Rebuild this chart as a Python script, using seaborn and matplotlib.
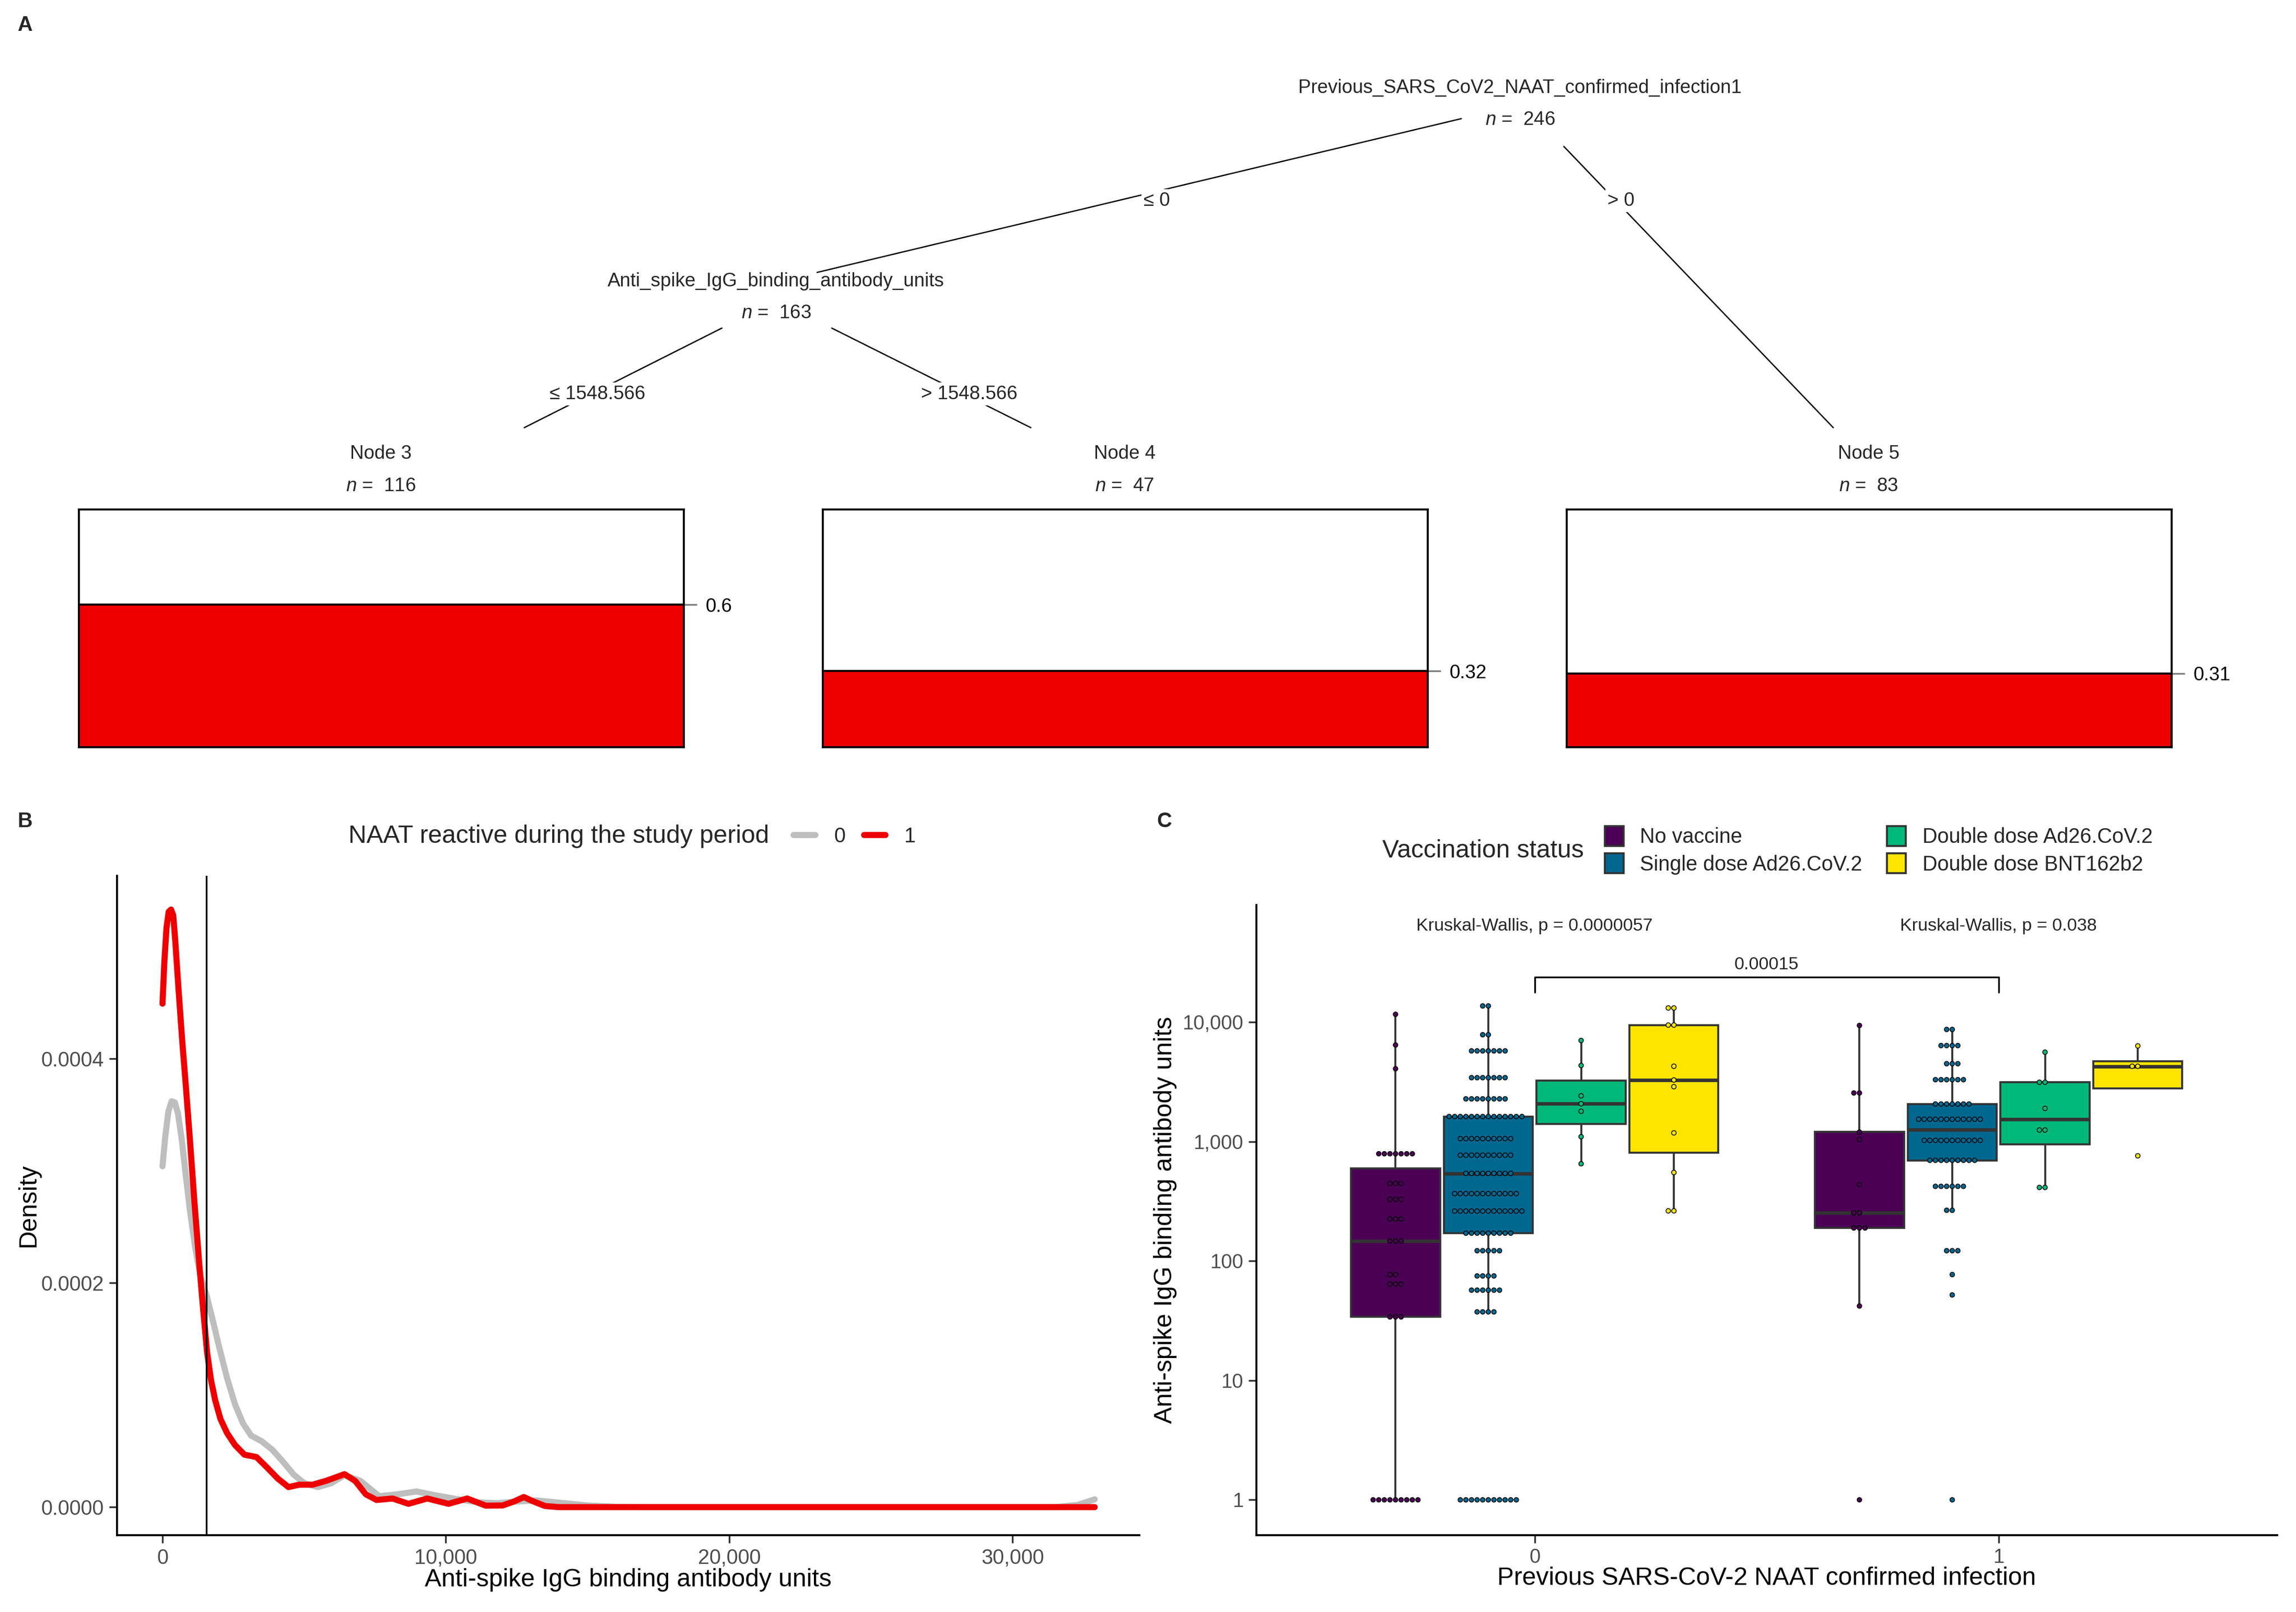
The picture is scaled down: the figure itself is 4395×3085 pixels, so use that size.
import numpy as np
import pandas as pd
import matplotlib
matplotlib.use("Agg")
import matplotlib.pyplot as plt
from matplotlib.patches import Patch
from matplotlib.lines import Line2D
from matplotlib.ticker import FixedLocator, NullLocator
import seaborn as sns

sns.set_theme(style="white")
plt.rcParams['font.family'] = ['Liberation Sans', 'DejaVu Sans']
plt.rcParams['mathtext.fontset'] = 'custom'
plt.rcParams['mathtext.it'] = 'Liberation Sans:italic'
plt.rcParams['mathtext.rm'] = 'Liberation Sans'

# ---- panel A: tree, share NAAT reactive in each terminal node
node_names = ['Node 3', 'Node 4', 'Node 5']
node_n = [116, 47, 83]
node_prop = [0.6, 0.32, 0.31]

# ---- panel B: density curves
neg_x = [0, 94, 207, 320, 433, 546, 678, 819, 960, 1149, 1337, 1554, 1761, 1996, 2279, 2561,
         2844, 3126, 3503, 3879, 4256, 4633, 5009, 5480, 5951, 6422, 6987, 7646, 8305, 8964,
         9623, 10377, 11130, 11800, 12500, 13200, 14000, 15000, 16000, 17000, 20000, 25000,
         30000, 31500, 32300, 32900]
neg_y = [3.04e-4, 3.30e-4, 3.53e-4, 3.62e-4, 3.61e-4, 3.51e-4, 3.28e-4, 2.96e-4, 2.66e-4,
         2.32e-4, 2.06e-4, 1.89e-4, 1.68e-4, 1.43e-4, 1.15e-4, 9.15e-5, 7.45e-5, 6.38e-5,
         5.87e-5, 5.11e-5, 4.04e-5, 2.89e-5, 2.13e-5, 1.79e-5, 2.13e-5, 2.85e-5, 2.34e-5,
         9.8e-6, 1.15e-5, 1.4e-5, 1.06e-5, 7.2e-6, 4.3e-6, 3.5e-6, 5e-6, 6e-6, 4e-6, 1.5e-6,
         3e-7, 0, 0, 0, 0, 0, 2e-6, 7e-6]
pos_x = [0, 66, 141, 217, 301, 377, 452, 565, 697, 819, 960, 1121, 1290, 1431, 1573, 1714,
         1855, 2043, 2279, 2561, 2891, 3315, 3691, 4068, 4444, 4821, 5292, 5763, 6422, 6798,
         7175, 7552, 8117, 8682, 9341, 10094, 10753, 11412, 12000, 12400, 12750, 13100, 13500,
         14000, 16000, 20000, 25000, 30000, 32900]
pos_y = [4.49e-4, 4.87e-4, 5.17e-4, 5.31e-4, 5.33e-4, 5.28e-4, 5.04e-4, 4.62e-4, 4.15e-4,
         3.77e-4, 3.30e-4, 2.74e-4, 2.19e-4, 1.77e-4, 1.38e-4, 1.13e-4, 9.57e-5, 7.87e-5,
         6.6e-5, 5.53e-5, 4.68e-5, 4.47e-5, 3.53e-5, 2.55e-5, 1.79e-5, 2.0e-5, 2.0e-5, 2.34e-5,
         2.94e-5, 2.34e-5, 1.15e-5, 6.4e-6, 7.7e-6, 3.0e-6, 7.7e-6, 3.0e-6, 7.7e-6, 1.3e-6,
         1.5e-6, 5e-6, 9e-6, 5e-6, 1e-6, 0, 0, 0, 0, 0, 0]
cutoff = 1548.566

# ---- panel C: antibody units per dot stack (value, count)
vacc_levels = ['No vaccine', 'Single dose Ad26.CoV.2', 'Double dose Ad26.CoV.2', 'Double dose BNT162b2']
vacc_colors = ['#4B0055', '#00678F', '#00B87A', '#FDE500']

none0_vals = [1, 34, 64, 77, 147, 225, 328, 447, 791, 4075, 6440, 11640]
none0_cnt = [9, 3, 3, 2, 3, 3, 3, 3, 7, 1, 1, 1]
single0_vals = [1, 37.5, 57, 75, 122, 171, 262, 367, 542, 770, 1059, 1622, 2280, 3430, 5750, 7850, 13680]
single0_cnt = [11, 4, 6, 4, 5, 9, 13, 12, 9, 10, 10, 14, 8, 7, 7, 2, 2]
ad0_vals = [652, 1099, 1795, 2075, 2415, 4340, 7030]
ad0_cnt = [1, 1, 1, 1, 1, 1, 1]
bnt0_vals = [263, 551, 1183, 2884, 3280, 4275, 9460, 13150]
bnt0_cnt = [2, 1, 1, 1, 1, 1, 2, 2]

none1_vals = [1, 42, 189, 253, 437, 1040, 1202, 2555, 9390]
none1_cnt = [1, 1, 3, 2, 1, 1, 1, 2, 1]
single1_vals = [1, 52, 77, 122, 266, 422, 697, 1024, 1539, 2065, 3300, 4490, 6370, 8690]
single1_cnt = [1, 1, 1, 3, 2, 6, 9, 11, 12, 7, 6, 3, 4, 2]
ad1_vals = [413, 1250, 1897, 3140, 5610]
ad1_cnt = [2, 2, 1, 2, 1]
bnt1_vals = [760, 4275, 6330]
bnt1_cnt = [1, 2, 1]

kw_labels = ['Kruskal-Wallis, p = 0.0000057', 'Kruskal-Wallis, p = 0.038']
pair_label = '0.00015'

RED = '#EE0000'
GREY = '#BEBEBE'
TXT = '#4D4D4D'

W, H = 1568.0, 1100.6  # layout grid (reference px / 2.803)


def box(x0, y0, x1, y1):
    return [x0 / W, 1 - y1 / H, (x1 - x0) / W, (y1 - y0) / H]


def expand(vals, cnt, inf, vac):
    return pd.DataFrame({'infection': inf, 'vaccine': vac, 'units': np.repeat(vals, cnt)})


def style_axis(ax, size):
    for s in ['top', 'right']:
        ax.spines[s].set_visible(False)
    for s in ['left', 'bottom']:
        ax.spines[s].set_color('black')
        ax.spines[s].set_linewidth(0.9)
    ax.tick_params(axis='both', direction='out', length=3.5, width=0.8, color='#333333',
                   labelcolor=TXT, labelsize=size, left=True, bottom=True, pad=2.5)


fig = plt.figure(figsize=(4395 / 300, 3085 / 300), dpi=300)
fig.patch.set_facecolor('white')

# ================= panel A
for i, (name, n, p) in enumerate(zip(node_names, node_n, node_prop)):
    x0 = 54 + i * 508
    bax = fig.add_axes(box(x0, 348, x0 + 413, 510))
    sns.barplot(x=[0], y=[p], color=RED, width=1.0, edgecolor='black', linewidth=0.9,
                saturation=1, ax=bax)
    bax.set_xlim(-0.5, 0.5)
    bax.set_ylim(0, 1)
    bax.set(xlabel='', ylabel='')
    bax.set_xticks([])
    bax.yaxis.tick_right()
    bax.set_yticks([p])
    bax.set_yticklabels(['{:g}'.format(p)])
    bax.tick_params(axis='y', right=True, left=False, length=6, width=0.8, color='#7F7F7F',
                    labelsize=8.8, labelcolor='black', pad=4)
    for s in bax.spines.values():
        s.set_visible(True)
        s.set_color('black')
        s.set_linewidth(0.9)

ov = fig.add_axes([0, 0, 1, 1], zorder=5)
ov.set_xlim(0, W)
ov.set_ylim(H, 0)
ov.axis('off')

# tree edges
for (xa, ya, xb, yb) in [(998, 81, 558, 186), (1068, 100, 1252, 292),
                         (493, 224, 358, 292), (568, 224, 704, 292)]:
    ov.plot([xa, xb], [ya, yb], color='black', lw=0.6)

tfs = 8.8
ov.text(1038, 60, 'Previous_SARS_CoV2_NAAT_confirmed_infection1', ha='center', va='center', fontsize=tfs)
ov.text(1038, 82, r'$n$ =  246', ha='center', va='center', fontsize=tfs)
ov.text(530, 192, 'Anti_spike_IgG_binding_antibody_units', ha='center', va='center', fontsize=tfs)
ov.text(530, 214, r'$n$ =  163', ha='center', va='center', fontsize=tfs)
for lab, x, y in [('\u2264 0', 790, 137), ('> 0', 1107, 137),
                  ('\u2264 1548.566', 408, 269), ('> 1548.566', 662, 269)]:
    ov.text(x, y, lab, ha='center', va='center', fontsize=tfs,
            bbox=dict(facecolor='white', edgecolor='none', pad=1.0))
for i, (name, n) in enumerate(zip(node_names, node_n)):
    cx = 260 + i * 508
    ov.text(cx, 310, name, ha='center', va='center', fontsize=tfs)
    ov.text(cx, 332, r'$n$ =  {}'.format(n), ha='center', va='center', fontsize=tfs)

# panel letters
for lab, x, y in [('A', 17, 17), ('B', 17, 561), ('C', 795, 561)]:
    ov.text(x, y, lab, ha='center', va='center', fontsize=9.5, fontweight='bold')

# ================= panel B
dens = pd.concat([
    pd.DataFrame({'units': neg_x, 'density': neg_y, 'NAAT': '0'}),
    pd.DataFrame({'units': pos_x, 'density': pos_y, 'NAAT': '1'}),
])
axB = fig.add_axes(box(80, 598, 778, 1048))
sns.lineplot(data=dens, x='units', y='density', hue='NAAT', hue_order=['0', '1'],
             palette={'0': GREY, '1': RED}, estimator=None, sort=False, lw=2.8,
             legend=False, ax=axB)
axB.axvline(cutoff, color='black', lw=0.8)
axB.set_xlim(-1602, 34470)
axB.set_ylim(-0.0000248, 0.000563)
axB.xaxis.set_major_locator(FixedLocator([0, 10000, 20000, 30000]))
axB.set_xticklabels(['0', '10,000', '20,000', '30,000'])
axB.yaxis.set_major_locator(FixedLocator([0, 0.0002, 0.0004]))
axB.set_yticklabels(['0.0000', '0.0002', '0.0004'])
style_axis(axB, 9.5)
axB.set_xlabel('Anti-spike IgG binding antibody units', fontsize=11.5, color='black')
axB.set_ylabel('Density', fontsize=11.5, color='black')
axB.xaxis.set_label_coords(0.5, -0.05)
axB.yaxis.set_label_coords(-0.075, 0.5)

ov.text(238, 571, 'NAAT reactive during the study period', ha='left', va='center', fontsize=11.5)
fig.legend([Line2D([], [], color=GREY, lw=2.8), Line2D([], [], color=RED, lw=2.8)], ['0', '1'],
           ncol=2, loc='center left', bbox_to_anchor=(542 / W, 1 - 571 / H), frameon=False,
           fontsize=9.5, handlelength=1.05, handletextpad=0.9, columnspacing=0.9,
           borderpad=0, borderaxespad=0)

# ================= panel C
dfC = pd.concat([
    expand(none0_vals, none0_cnt, '0', vacc_levels[0]),
    expand(single0_vals, single0_cnt, '0', vacc_levels[1]),
    expand(ad0_vals, ad0_cnt, '0', vacc_levels[2]),
    expand(bnt0_vals, bnt0_cnt, '0', vacc_levels[3]),
    expand(none1_vals, none1_cnt, '1', vacc_levels[0]),
    expand(single1_vals, single1_cnt, '1', vacc_levels[1]),
    expand(ad1_vals, ad1_cnt, '1', vacc_levels[2]),
    expand(bnt1_vals, bnt1_cnt, '1', vacc_levels[3]),
], ignore_index=True)
pal = dict(zip(vacc_levels, vacc_colors))

axC = fig.add_axes(box(858, 618, 1555, 1048))
sns.boxplot(data=dfC, x='infection', y='units', hue='vaccine', hue_order=vacc_levels,
            order=['0', '1'], palette=pal, saturation=1, log_scale=True, showfliers=False,
            width=0.8, gap=0.04, linecolor='#333333', linewidth=0.9, capwidths=0,
            medianprops=dict(linewidth=1.6), legend=False, ax=axC)
sns.swarmplot(data=dfC, x='infection', y='units', hue='vaccine', hue_order=vacc_levels,
              order=['0', '1'], palette=pal, dodge=True, log_scale=True, size=2.1,
              edgecolor='black', linewidth=0.35, legend=False, ax=axC)
axC.set_xlim(-0.6, 1.6)
axC.set_ylim(0.508, 95500)
axC.yaxis.set_major_locator(FixedLocator([1, 10, 100, 1000, 10000]))
axC.yaxis.set_minor_locator(NullLocator())
axC.set_yticklabels(['1', '10', '100', '1,000', '10,000'])
style_axis(axC, 9.2)
axC.set_xlabel('Previous SARS-CoV-2 NAAT confirmed infection', fontsize=11.5, color='black')
axC.set_ylabel('Anti-spike IgG binding antibody units', fontsize=11.5, color='black')
axC.xaxis.set_label_coords(0.5, -0.05)
axC.yaxis.set_label_coords(-0.078, 0.5)

# stats annotations
for xi, lab in enumerate(kw_labels):
    axC.text(xi, 63400, lab, ha='center', va='center', fontsize=8.2)
axC.plot([0, 0, 1, 1], [17800, 23800, 23800, 17800], color='black', lw=0.8)
axC.text(0.5, 30300, pair_label, ha='center', va='center', fontsize=8.2)

ov.text(944, 581, 'Vaccination status', ha='left', va='center', fontsize=11.5)
fig.legend([Patch(facecolor=c, edgecolor='#333333', lw=0.9) for c in vacc_colors], vacc_levels,
           ncol=2, loc='center left', bbox_to_anchor=(1096 / W, 1 - 580.5 / H), frameon=False,
           fontsize=9.5, handlelength=0.9, handleheight=1.1, handletextpad=0.8,
           columnspacing=1.2, labelspacing=0.3, borderpad=0, borderaxespad=0)

fig.savefig('out.png', dpi=300, facecolor='white')
